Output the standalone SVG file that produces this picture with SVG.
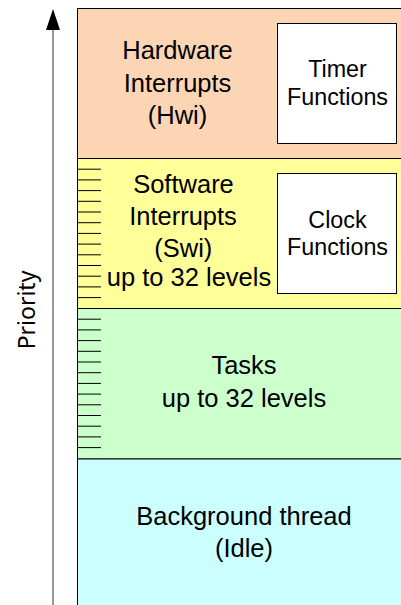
<svg xmlns="http://www.w3.org/2000/svg" width="401" height="605" viewBox="0 0 401 605">
<style>
.t{font-family:"Liberation Sans",Arial,sans-serif;font-size:25.5px;fill:#000;text-anchor:middle}
.s{font-family:"Liberation Sans",Arial,sans-serif;font-size:23.3px;fill:#000;text-anchor:middle}
.sec{stroke:#000;stroke-width:1}
.box{fill:#fff;stroke:#000;stroke-width:1}
.tick{stroke:#000;stroke-width:1}
</style>
<rect width="401" height="605" fill="#fff"/>
<g id="axis">
<line x1="53" y1="28" x2="53" y2="605" stroke="#808080" stroke-width="1.6"/>
<polygon points="53,9 46,30 60,30" fill="#000"/>
<text x="35" y="310" transform="rotate(-90 35 310)" style="font-family:'Noto Sans','Open Sans',sans-serif;font-size:23px;text-anchor:middle;fill:#000">Priority</text>
</g>
<g id="hwi">
<rect class="sec" x="77.5" y="8.5" width="340" height="150" fill="#FCD5B5"/>
<text class="t" x="177.5" y="59">Hardware</text>
<text class="t" x="177.5" y="91.5">Interrupts</text>
<text class="t" x="177.5" y="124">(Hwi)</text>
</g>
<g id="timer">
<rect class="box" x="277.5" y="23.5" width="119" height="120"/>
<text class="s" x="337.5" y="77">Timer</text>
<text class="s" x="337.5" y="105">Functions</text>
</g>
<g id="swi">
<rect class="sec" x="77.5" y="158.5" width="340" height="150" fill="#FFFF99"/>
<text class="t" x="183.5" y="193.3">Software</text>
<text class="t" x="183" y="225.3">Interrupts</text>
<text class="t" x="183.3" y="257.3">(Swi)</text>
<text class="t" x="189" y="286">up to 32 levels</text>
</g>
<g id="clock">
<rect class="box" x="277.5" y="173.5" width="119" height="120"/>
<text class="s" x="337.5" y="227.5">Clock</text>
<text class="s" x="337.5" y="255">Functions</text>
</g>
<g id="tasks">
<rect class="sec" x="77.5" y="308.5" width="340" height="150.5" fill="#CCFFCC"/>
<text class="t" x="244" y="374.3">Tasks</text>
<text class="t" x="244" y="406.5">up to 32 levels</text>
</g>
<g id="idle">
<rect class="sec" x="77.5" y="459" width="340" height="160" fill="#CCFFFF"/>
<text class="t" x="244" y="525">Background thread</text>
<text class="t" x="244" y="557">(Idle)</text>
</g>
<g id="connectors">
<g class="tick">
<line x1="78" y1="169.2" x2="101" y2="169.2"/>
<line x1="78" y1="179.9" x2="101" y2="179.9"/>
<line x1="78" y1="190.6" x2="101" y2="190.6"/>
<line x1="78" y1="201.3" x2="101" y2="201.3"/>
<line x1="78" y1="212" x2="101" y2="212"/>
<line x1="78" y1="222.7" x2="101" y2="222.7"/>
<line x1="78" y1="233.4" x2="101" y2="233.4"/>
<line x1="78" y1="244.1" x2="101" y2="244.1"/>
<line x1="78" y1="254.8" x2="101" y2="254.8"/>
<line x1="78" y1="265.5" x2="101" y2="265.5"/>
<line x1="78" y1="276.2" x2="101" y2="276.2"/>
<line x1="78" y1="286.9" x2="101" y2="286.9"/>
<line x1="78" y1="297.6" x2="101" y2="297.6"/>
<line x1="78" y1="319.2" x2="101" y2="319.2"/>
<line x1="78" y1="329.9" x2="101" y2="329.9"/>
<line x1="78" y1="340.6" x2="101" y2="340.6"/>
<line x1="78" y1="351.3" x2="101" y2="351.3"/>
<line x1="78" y1="362" x2="101" y2="362"/>
<line x1="78" y1="372.7" x2="101" y2="372.7"/>
<line x1="78" y1="383.4" x2="101" y2="383.4"/>
<line x1="78" y1="394.1" x2="101" y2="394.1"/>
<line x1="78" y1="404.8" x2="101" y2="404.8"/>
<line x1="78" y1="415.5" x2="101" y2="415.5"/>
<line x1="78" y1="426.2" x2="101" y2="426.2"/>
<line x1="78" y1="436.9" x2="101" y2="436.9"/>
<line x1="78" y1="447.6" x2="101" y2="447.6"/>
</g>
</g>
</svg>
